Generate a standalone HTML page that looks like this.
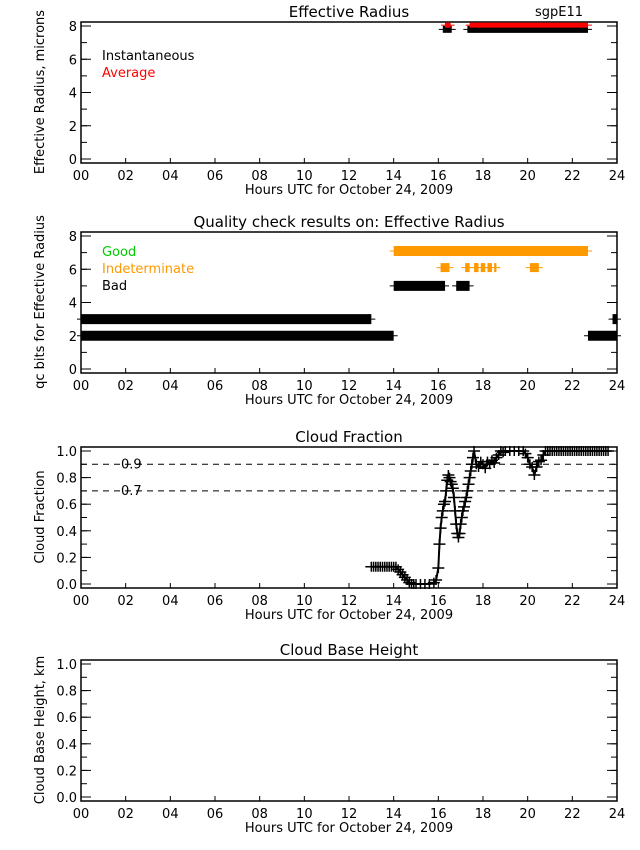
<!DOCTYPE html>
<html><head><meta charset="utf-8"><style>
body{margin:0;background:#fff}
svg{display:block;font-family:"DejaVu Sans","Liberation Sans",sans-serif}
text{font-size:13px}
</style></head><body>
<svg id="c" width="640" height="850" viewBox="0 0 640 850" xmlns="http://www.w3.org/2000/svg"></svg>
<script>
const hourTicks=["00","02","04","06","08","10","12","14","16","18","20","22","24"];
const erInstSegs=[[16.2,16.6],[17.3,22.7]];
const erAvgSegs=[[16.3,16.55],[17.4,22.7]];
const qcBad3=[[0,13],[23.8,24]];
const qcBad2=[[0,14],[22.7,24]];
const qcBad5=[[14,16.3],[16.8,17.4]];
const qcInd7=[[14,22.7]];
const qcInd6=[[16.1,16.5],[17.2,17.4],[17.6,17.8],[17.9,18.1],[18.2,18.4],[18.5,18.6],[20.1,20.5]];
const cfTimes=[13.0,13.1,13.2,13.3,13.4,13.5,13.6,13.7,13.8,13.9,14.0,14.1,14.2,14.3,14.4,14.5,14.6,14.7,14.8,14.9,15.0,15.2,15.4,15.6,15.8,15.9,16.0,16.05,16.1,16.15,16.2,16.25,16.3,16.35,16.4,16.45,16.5,16.55,16.6,16.65,16.7,16.75,16.8,16.85,16.9,16.95,17.0,17.05,17.1,17.15,17.2,17.25,17.3,17.35,17.4,17.45,17.5,17.55,17.6,17.7,17.8,17.9,18.0,18.1,18.2,18.3,18.4,18.5,18.6,18.7,18.8,18.9,19.0,19.2,19.4,19.6,19.8,19.9,20.0,20.1,20.2,20.3,20.4,20.5,20.6,20.7,20.8,20.9,21.0,21.1,21.2,21.3,21.4,21.5,21.6,21.7,21.8,21.9,22.0,22.1,22.2,22.3,22.4,22.5,22.6,22.7,22.8,22.9,23.0,23.1,23.2,23.3,23.4,23.5,23.6];
const cfValues=[0.13,0.13,0.13,0.13,0.13,0.13,0.13,0.13,0.13,0.13,0.13,0.13,0.11,0.09,0.07,0.05,0.03,0.01,0.0,0.0,0.0,0.0,0.0,0.0,0.01,0.03,0.12,0.3,0.42,0.5,0.55,0.6,0.62,0.7,0.78,0.82,0.8,0.77,0.75,0.72,0.65,0.55,0.45,0.38,0.35,0.38,0.45,0.5,0.55,0.58,0.62,0.65,0.7,0.75,0.8,0.85,0.9,0.95,1.0,0.9,0.88,0.92,0.9,0.87,0.92,0.9,0.93,0.91,0.95,0.97,1.0,0.99,1.0,1.0,1.0,1.0,1.0,0.98,0.95,0.9,0.88,0.82,0.88,0.92,0.93,0.97,1.0,1.0,1.0,1.0,1.0,1.0,1.0,1.0,1.0,1.0,1.0,1.0,1.0,1.0,1.0,1.0,1.0,1.0,1.0,1.0,1.0,1.0,1.0,1.0,1.0,1.0,1.0,1.0,1.0];
const cfRefLines=[0.9,0.7];

const svg=document.getElementById('c');const NS="http://www.w3.org/2000/svg";
function mk(t,a,p){const e=document.createElementNS(NS,t);for(const k in a)e.setAttribute(k,a[k]);(p||svg).appendChild(e);return e;}
const X0=81,X1=617;
const xs=h=>X0+(X1-X0)*h/24;
function panel(top,ymin,ymax,yticks,minor,fmt,title,ylab,name){
  const g=mk('g',{});
  
  
  const bot=top+141;
  const ys=v=>bot-4-(v-ymin)/(ymax-ymin)*(133);
  mk('rect',{x:X0,y:top,width:X1-X0,height:141,fill:'none',stroke:'#000','stroke-width':1.5},g);
  hourTicks.forEach((t,i)=>{const x=xs(i*2);mk('line',{x1:x,x2:x,y1:bot,y2:bot-5,stroke:'#000'},g);
    const tx=mk('text',{x:x,y:bot+17,'text-anchor':'middle'},g);tx.textContent=t;
    });
  for(let v=ymin;v<=ymax+1e-9;v+=minor){const y=ys(v);
    mk('line',{x1:X0,x2:X0+6,y1:y,y2:y,stroke:'#000'},g);mk('line',{x1:X1,x2:X1-6,y1:y,y2:y,stroke:'#000'},g);}
  yticks.forEach(v=>{const y=ys(v);mk('line',{x1:X0,x2:X0+10,y1:y,y2:y,stroke:'#000'},g);mk('line',{x1:X1,x2:X1-10,y1:y,y2:y,stroke:'#000'},g);
    const tx=mk('text',{x:X0-4,y:y+5,'text-anchor':'end'},g);tx.textContent=fmt(v);
    });
  const xt=mk('text',{x:349,y:bot+31,'text-anchor':'middle'},g);xt.textContent="Hours UTC for October 24, 2009";
  
  const tt=mk('text',{x:349,y:top-5,'text-anchor':'middle'},g);tt.style.fontSize='15px';tt.textContent=title;
  
  const yl=mk('text',{x:0,y:0,'text-anchor':'middle',transform:`translate(${X0-37},${top+70}) rotate(-90)`},g);yl.textContent=ylab;
  
  return {g,ys};
}
function seg(p,segs,v,col,w,name){segs.forEach(s=>{const y=p.ys(v);
  const l=mk('line',{x1:xs(s[0]),x2:xs(s[1]),y1:y,y2:y,stroke:col,'stroke-width':w},p.g);
  
  mk('line',{x1:xs(s[0])-4,x2:xs(s[1])+4,y1:y,y2:y,stroke:col,'stroke-width':1},p.g);});}
function legend(p,x,y,items){items.forEach((it,i)=>{const t=mk('text',{x:x,y:y+i*17,fill:it[1]},p.g);t.textContent=it[0];
  });}

// Panel 1
const p1=panel(22,0,8,[0,2,4,6,8],1,v=>v,"Effective Radius","Effective Radius, microns","effective-radius-panel");
seg(p1,erInstSegs,7.8,'#000',7,'instantaneous-bar');
seg(p1,erAvgSegs,8.05,'#f00',5,'average-bar');
legend(p1,102,60,[["Instantaneous","#000"],["Average","#f00"]]);
const st=mk('text',{x:535,y:16});st.textContent="sgpE11";

// Panel 2
const p2=panel(232,0,8,[0,2,4,6,8],1,v=>v,"Quality check  results on: Effective Radius","qc bits for Effective Radius","qc-panel");
seg(p2,qcBad3,3,'#000',10,'bad-bar-3');
seg(p2,qcBad2,2,'#000',10,'bad-bar-2');
seg(p2,qcBad5,5,'#000',10,'bad-bar-5');
seg(p2,qcInd7,7.1,'#f90',10,'indeterminate-bar-7');
seg(p2,qcInd6,6.1,'#f90',9,'indeterminate-bar-6');
legend(p2,102,256,[["Good","#0c0"],["Indeterminate","#f90"],["Bad","#000"]]);

// Panel 3
const p3=panel(447,0,1,[0,0.2,0.4,0.6,0.8,1.0],0.1,v=>v.toFixed(1),"Cloud Fraction","Cloud Fraction","cloud-fraction-panel");
cfRefLines.forEach(v=>{const y=p3.ys(v);const l=mk('line',{x1:X0,x2:X1,y1:y,y2:y,stroke:'#000','stroke-dasharray':'6,5'},p3.g);
  
  const t=mk('text',{x:121,y:y+4},p3.g);t.textContent=v.toFixed(1);});
let d='';cfTimes.forEach((t,i)=>{d+=(i?'L':'M')+xs(t)+' '+p3.ys(cfValues[i]);});
const pl=mk('path',{d:d,fill:'none',stroke:'#000','stroke-width':2},p3.g);
cfTimes.forEach((t,i)=>{const x=xs(t),y=p3.ys(cfValues[i]);
  const m=mk('path',{d:`M${x-6} ${y}H${x+6}M${x} ${y-5}V${y+5}`,stroke:'#000','stroke-width':1.5},p3.g);
  });

// Panel 4
panel(660,0,1,[0,0.2,0.4,0.6,0.8,1.0],0.1,v=>v.toFixed(1),"Cloud Base Height","Cloud Base Height, km","cloud-base-height-panel");
</script>
</body></html>
